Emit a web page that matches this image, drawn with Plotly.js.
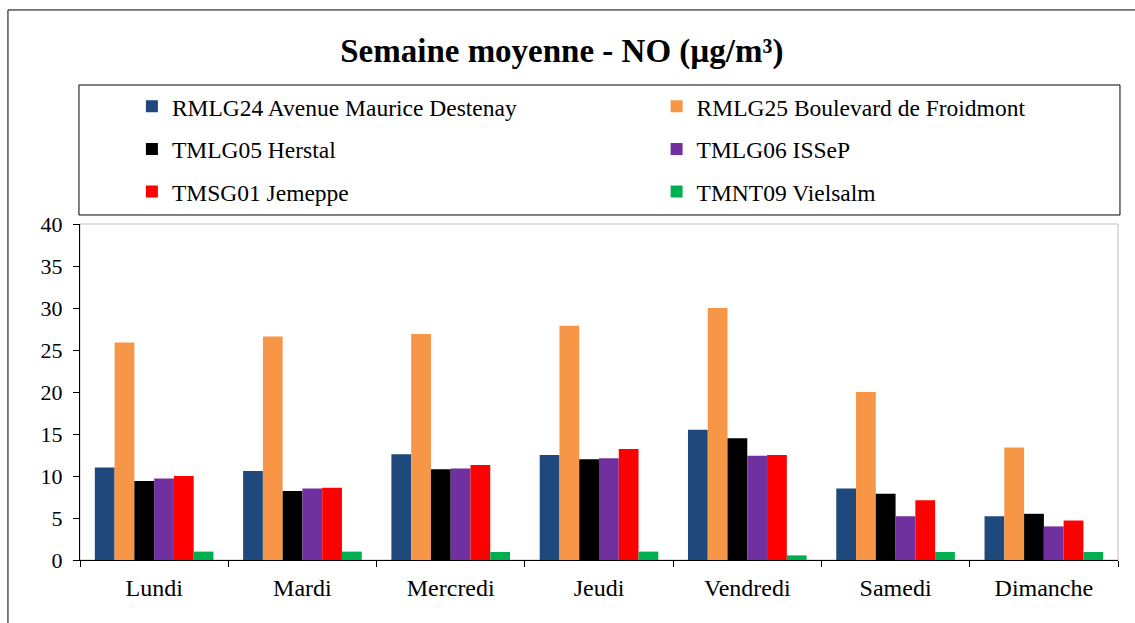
<!DOCTYPE html>
<html>
<head>
<meta charset="utf-8">
<script src="https://cdn.plot.ly/plotly-3.0.1.min.js"></script>
<style>html,body{margin:0;padding:0;background:#fff;}#chart{width:1135px;height:623px;}</style>
</head>
<body>
<div id="chart"></div>
<script>
const days = ["Lundi", "Mardi", "Mercredi", "Jeudi", "Vendredi", "Samedi", "Dimanche"];
const seriesNames = [
  "RMLG24 Avenue Maurice Destenay",
  "RMLG25 Boulevard de Froidmont",
  "TMLG05 Herstal",
  "TMLG06 ISSeP",
  "TMSG01 Jemeppe",
  "TMNT09 Vielsalm"
];
const rmlg24 = [11.0, 10.6, 12.6, 12.5, 15.5, 8.5, 5.2];
const rmlg25 = [25.9, 26.6, 26.9, 27.9, 30.0, 20.0, 13.4];
const tmlg05 = [9.4, 8.2, 10.8, 12.0, 14.5, 7.9, 5.5];
const tmlg06 = [9.7, 8.5, 10.9, 12.1, 12.4, 5.2, 4.0];
const tmsg01 = [10.0, 8.6, 11.3, 13.2, 12.5, 7.1, 4.7];
const tmnt09 = [1.0, 1.0, 0.95, 1.0, 0.55, 0.95, 0.95];
const seriesValues = [rmlg24, rmlg25, tmlg05, tmlg06, tmsg01, tmnt09];
const colors = ["#1F497D", "#F79646", "#000000", "#7030A0", "#FF0000", "#00B050"];
const legendIds = ["legend", "legend2", "legend", "legend2", "legend", "legend2"];

const serif = "Liberation Serif, Times New Roman, serif";

const traces = seriesNames.map((name, i) => ({
  type: "bar",
  name: name,
  x: days,
  y: seriesValues[i],
  marker: {color: colors[i], line: {width: 0}},
  legend: legendIds[i],
  legendgroup: "g" + i,
  hoverinfo: "x+y+name"
}));

const legendCommon = {
  orientation: "v",
  bgcolor: "rgba(0,0,0,0)",
  borderwidth: 0,
  font: {family: serif, size: 23.5, color: "#000"},
  tracegroupgap: 9,
  itemwidth: 30,
  yanchor: "top",
  xanchor: "left",
  traceorder: "grouped"
};

const layout = {
  width: 1135,
  height: 623,
  margin: {l: 80, r: 17, t: 224, b: 63},
  paper_bgcolor: "#fff",
  plot_bgcolor: "#fff",
  showlegend: true,
  bargap: 0.2,
  bargroupgap: 0,
  barmode: "group",
  title: {
    text: "<b>Semaine moyenne - NO (µg/m³)</b>",
    font: {family: serif, size: 33, color: "#000"},
    x: 0.495, xref: "container", xanchor: "center",
    y: 1 - 50 / 623, yref: "container", yanchor: "middle"
  },
  xaxis: {
    type: "category",
    tickson: "boundaries",
    ticks: "outside",
    ticklen: 6,
    tickcolor: "#000",
    showline: true,
    linecolor: "#000",
    linewidth: 1,
    showgrid: false,
    ticklabelstandoff: 6,
    tickfont: {family: serif, size: 24, color: "#000"},
    fixedrange: true
  },
  yaxis: {
    range: [0, 40],
    dtick: 5,
    ticks: "outside",
    ticklen: 6,
    tickcolor: "#000",
    showline: true,
    linecolor: "#000",
    linewidth: 1,
    showgrid: false,
    zeroline: false,
    ticklabelstandoff: 6,
    tickfont: {family: serif, size: 22, color: "#000"},
    fixedrange: true
  },
  legend: Object.assign({}, legendCommon, {x: 0.050, y: 1.415}),
  legend2: Object.assign({}, legendCommon, {x: 0.5555, y: 1.415}),
  shapes: [
    {type: "rect", xref: "paper", yref: "paper", x0: 0, x1: 1, y0: 0, y1: 1,
     line: {color: "#BFBFBF", width: 1}, layer: "below"},
    {type: "rect", xref: "paper", yref: "paper", x0: -0.001, x1: 1.0019, y0: 1.0268, y1: 1.4137,
     line: {color: "#000", width: 1}, fillcolor: "rgba(0,0,0,0)", layer: "below"},
    {type: "rect", xref: "paper", yref: "paper", x0: -0.0694, x1: 1.5, y0: -1, y1: 1.637,
     line: {color: "#000", width: 1}, fillcolor: "rgba(0,0,0,0)", layer: "below"}
  ]
};

Plotly.newPlot("chart", traces, layout, {displayModeBar: false, staticPlot: true});
</script>
</body>
</html>
